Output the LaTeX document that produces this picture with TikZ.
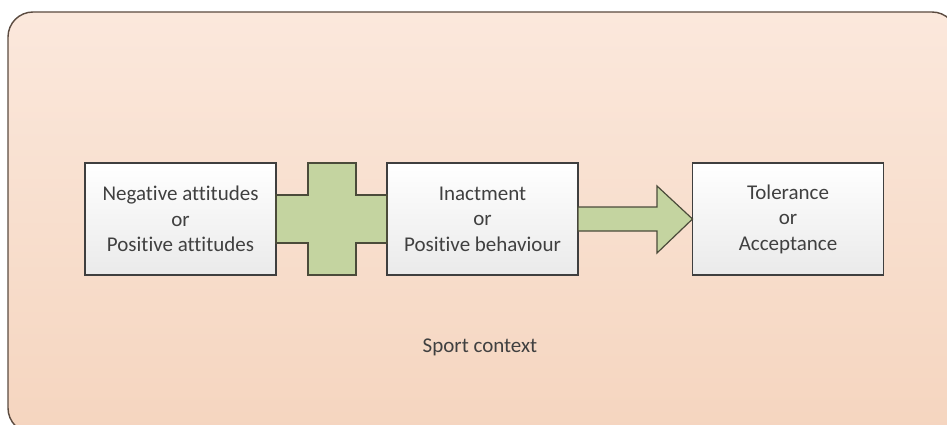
\documentclass[tikz,border=0pt]{standalone}
\usepackage{fontspec}
\setmainfont[Ligatures={NoCommon}]{Carlito}
\usepackage{tikz}
\definecolor{bgtop}{HTML}{FBE8DC}
\definecolor{bgbottom}{HTML}{F5D5BF}
\definecolor{frameline}{HTML}{5B4B40}
\definecolor{boxline}{HTML}{3F3F3F}
\definecolor{boxbottom}{HTML}{EAEAEA}
\definecolor{jointfill}{HTML}{C4D4A0}
\definecolor{jointline}{HTML}{4B4B3A}
\definecolor{txt}{HTML}{404040}
\tikzset{
  box/.style={draw=boxline, line width=1.2pt, top color=white, bottom color=boxbottom,
    minimum width=191pt, minimum height=112pt, outer sep=0pt, align=center,
    text=txt, font=\fontsize{21}{25.5}\selectfont},
  joint/.style={draw=jointline, fill=jointfill, line width=1.2pt, line join=miter}
}

\begin{document}
\begin{tikzpicture}[x=1pt,y=-1pt]
                \useasboundingbox (0,0) rectangle (947,425);
                \draw[draw=frameline, line width=1.4pt, rounded corners=25pt, top color=bgtop, bottom color=bgbottom] (8,12) rectangle (957,433);
                \node[box] (neg) at (180.5,219) {Negative attitudes\\or\\Positive attitudes};
                \node[box] (inact) at (482.5,219) {Inactment\\or\\Positive behaviour};
                \node[box] (toler) at (788,219) {Tolerance\\or\\Acceptance};
                \draw[joint] (neg.east |- 0,195) -- (308,195) -- (308,163) -- (356,163) -- (356,195) -- (inact.west |- 0,195)
                    -- (inact.west |- 0,243) -- (356,243) -- (356,275) -- (308,275) -- (308,243) -- (neg.east |- 0,243) -- cycle;
                \draw[joint] (inact.east |- 0,207) -- (657,207) -- (657,186) -- (toler.west) -- (657,253) -- (657,231) -- (inact.east |- 0,231) -- cycle;
                \node[text=txt, font=\fontsize{21}{25.5}\selectfont] (context) at (480,347) {Sport context};
            \end{tikzpicture}
\end{document}
